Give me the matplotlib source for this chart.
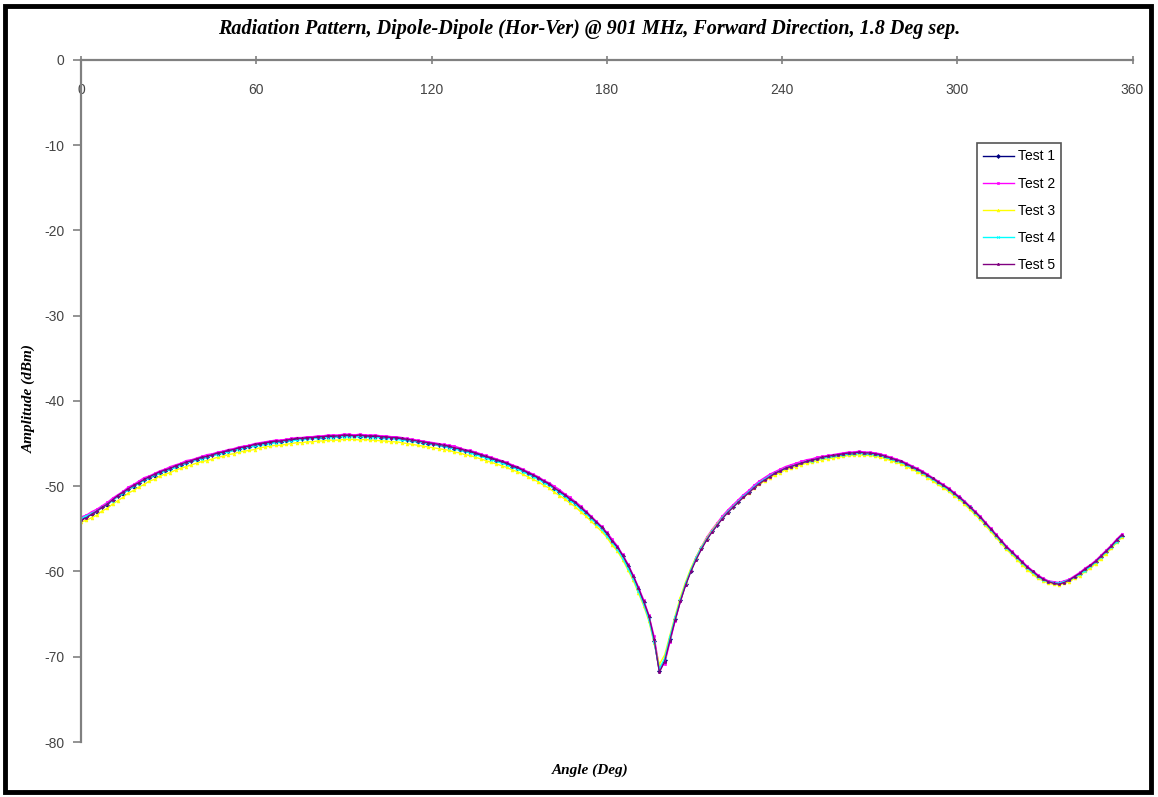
import numpy as np
import matplotlib
matplotlib.use('Agg')
from matplotlib import pyplot as plt
from matplotlib.patches import Rectangle

plt.rcParams['axes.unicode_minus'] = False
plt.rcParams['font.family'] = ['Liberation Sans', 'DejaVu Sans']

# amplitude readings (dBm), one every 1.8 deg starting at 0 deg
test1 = [-53.9, -53.6, -53.3, -53.0, -52.4, -52.2, -51.6, -51.2, -50.9, -50.3,
         -50.1, -49.6, -49.3, -49.0, -48.8, -48.4, -48.2, -48.0, -47.7, -47.5,
         -47.3, -47.1, -46.9, -46.7, -46.6, -46.4, -46.2, -46.1, -45.9, -45.8,
         -45.6, -45.5, -45.4, -45.3, -45.1, -45.0, -44.9, -44.8, -44.8, -44.7,
         -44.6, -44.5, -44.5, -44.4, -44.4, -44.3, -44.3, -44.2, -44.2, -44.2,
         -44.1, -44.1, -44.1, -44.2, -44.1, -44.2, -44.2, -44.3, -44.3, -44.4,
         -44.4, -44.5, -44.6, -44.7, -44.8, -44.9, -45.0, -45.1, -45.2, -45.3,
         -45.4, -45.6, -45.7, -45.9, -46.0, -46.2, -46.4, -46.6, -46.8, -47.0,
         -47.2, -47.4, -47.7, -47.9, -48.2, -48.5, -48.8, -49.1, -49.5, -49.8,
         -50.3, -50.7, -51.1, -51.6, -52.0, -52.6, -53.1, -53.7, -54.3, -54.9,
         -55.6, -56.5, -57.2, -58.2, -59.4, -60.6, -62.1, -63.6, -65.4, -68.1,
         -71.7, -70.4, -67.9, -65.6, -63.4, -61.5, -59.9, -58.5, -57.3, -56.2,
         -55.3, -54.5, -53.7, -53.0, -52.4, -51.8, -51.2, -50.7, -50.1, -49.6,
         -49.2, -48.8, -48.5, -48.2, -47.9, -47.7, -47.5, -47.3, -47.1, -47.0,
         -46.8, -46.7, -46.6, -46.5, -46.4, -46.3, -46.2, -46.2, -46.1, -46.2,
         -46.2, -46.3, -46.4, -46.6, -46.8, -47.0, -47.2, -47.5, -47.8, -48.1,
         -48.4, -48.8, -49.2, -49.6, -50.0, -50.4, -50.9, -51.3, -51.9, -52.5,
         -53.1, -53.7, -54.4, -55.1, -55.8, -56.5, -57.2, -57.8, -58.4, -59.0,
         -59.6, -60.1, -60.6, -60.9, -61.2, -61.3, -61.4, -61.2, -61.0, -60.6,
         -60.3, -59.8, -59.4, -58.9, -58.3, -57.7, -57.1, -56.4, -55.8]

test2 = [-53.6, -53.4, -53.0, -52.7, -52.3, -51.9, -51.4, -51.0, -50.6, -50.1,
         -49.8, -49.4, -49.0, -48.8, -48.5, -48.2, -48.0, -47.7, -47.5, -47.3,
         -47.0, -46.9, -46.7, -46.5, -46.3, -46.2, -46.0, -45.9, -45.7, -45.6,
         -45.4, -45.3, -45.2, -45.0, -44.9, -44.8, -44.7, -44.6, -44.6, -44.5,
         -44.4, -44.3, -44.3, -44.2, -44.2, -44.1, -44.1, -44.0, -44.0, -44.0,
         -43.9, -43.9, -44.0, -43.9, -44.0, -44.0, -44.0, -44.1, -44.1, -44.2,
         -44.2, -44.3, -44.4, -44.5, -44.6, -44.7, -44.8, -44.9, -45.0, -45.1,
         -45.2, -45.3, -45.5, -45.7, -45.8, -46.0, -46.2, -46.4, -46.6, -46.8,
         -47.0, -47.2, -47.5, -47.7, -48.0, -48.3, -48.6, -48.9, -49.3, -49.6,
         -50.0, -50.4, -50.9, -51.3, -51.8, -52.3, -52.9, -53.5, -54.1, -54.7,
         -55.4, -56.2, -57.0, -58.0, -59.1, -60.4, -61.8, -63.3, -65.1, -67.6,
         -71.3, -70.8, -68.3, -65.8, -63.5, -61.5, -59.8, -58.3, -57.1, -56.0,
         -55.1, -54.3, -53.5, -52.8, -52.2, -51.6, -51.0, -50.5, -49.9, -49.4,
         -49.0, -48.6, -48.3, -48.0, -47.7, -47.5, -47.3, -47.1, -46.9, -46.8,
         -46.6, -46.5, -46.4, -46.3, -46.2, -46.1, -46.0, -46.0, -45.9, -46.0,
         -46.0, -46.1, -46.2, -46.4, -46.6, -46.8, -47.0, -47.3, -47.6, -47.9,
         -48.2, -48.6, -49.0, -49.4, -49.8, -50.2, -50.7, -51.2, -51.7, -52.3,
         -52.9, -53.5, -54.2, -54.9, -55.6, -56.3, -57.0, -57.6, -58.2, -58.8,
         -59.4, -59.9, -60.4, -60.8, -61.1, -61.2, -61.3, -61.1, -60.9, -60.5,
         -60.1, -59.6, -59.2, -58.7, -58.1, -57.5, -56.9, -56.2, -55.6]

test3 = [-54.2, -54.0, -53.7, -53.4, -52.9, -52.6, -52.1, -51.7, -51.3, -50.8,
         -50.5, -50.1, -49.8, -49.4, -49.2, -48.8, -48.6, -48.4, -48.1, -47.9,
         -47.7, -47.5, -47.3, -47.1, -47.0, -46.8, -46.6, -46.5, -46.3, -46.2,
         -46.0, -45.9, -45.8, -45.7, -45.5, -45.4, -45.3, -45.2, -45.2, -45.1,
         -45.0, -44.9, -44.9, -44.8, -44.8, -44.7, -44.7, -44.6, -44.6, -44.6,
         -44.5, -44.5, -44.5, -44.6, -44.5, -44.6, -44.6, -44.7, -44.7, -44.8,
         -44.8, -44.9, -45.0, -45.1, -45.2, -45.3, -45.4, -45.5, -45.6, -45.7,
         -45.8, -46.0, -46.1, -46.3, -46.4, -46.6, -46.8, -47.0, -47.2, -47.4,
         -47.6, -47.8, -48.1, -48.3, -48.6, -48.9, -49.2, -49.5, -49.9, -50.2,
         -50.7, -51.1, -51.5, -52.0, -52.4, -53.0, -53.5, -54.1, -54.7, -55.3,
         -56.0, -56.9, -57.6, -58.6, -59.8, -61.0, -62.5, -64.0, -65.8, -68.4,
         -70.9, -69.8, -67.5, -65.2, -63.0, -61.2, -59.6, -58.3, -57.1, -56.1,
         -55.2, -54.4, -53.7, -53.0, -52.4, -51.8, -51.3, -50.8, -50.2, -49.8,
         -49.4, -49.0, -48.7, -48.4, -48.1, -47.9, -47.7, -47.5, -47.3, -47.2,
         -47.0, -46.9, -46.8, -46.7, -46.6, -46.5, -46.4, -46.4, -46.3, -46.4,
         -46.4, -46.5, -46.6, -46.8, -47.0, -47.2, -47.4, -47.7, -48.0, -48.3,
         -48.6, -49.0, -49.4, -49.8, -50.2, -50.6, -51.1, -51.5, -52.1, -52.7,
         -53.3, -53.9, -54.6, -55.3, -56.0, -56.7, -57.4, -58.0, -58.6, -59.2,
         -59.8, -60.3, -60.8, -61.1, -61.4, -61.5, -61.6, -61.4, -61.2, -60.8,
         -60.5, -60.0, -59.6, -59.1, -58.5, -57.9, -57.3, -56.6, -56.0]

test4 = [-53.8, -53.5, -53.2, -52.9, -52.5, -52.1, -51.7, -51.2, -50.8, -50.4,
         -50.0, -49.7, -49.3, -49.0, -48.7, -48.5, -48.2, -48.0, -47.8, -47.5,
         -47.3, -47.1, -46.9, -46.8, -46.6, -46.4, -46.3, -46.1, -46.0, -45.8,
         -45.7, -45.5, -45.4, -45.3, -45.2, -45.1, -45.0, -44.9, -44.8, -44.7,
         -44.7, -44.6, -44.5, -44.5, -44.4, -44.4, -44.3, -44.3, -44.3, -44.2,
         -44.2, -44.2, -44.2, -44.2, -44.2, -44.3, -44.3, -44.3, -44.4, -44.4,
         -44.5, -44.6, -44.6, -44.7, -44.8, -44.9, -45.0, -45.1, -45.2, -45.3,
         -45.5, -45.6, -45.8, -45.9, -46.1, -46.3, -46.5, -46.7, -46.9, -47.1,
         -47.3, -47.5, -47.8, -48.0, -48.3, -48.6, -48.9, -49.2, -49.6, -49.9,
         -50.3, -50.8, -51.2, -51.7, -52.1, -52.7, -53.2, -53.8, -54.4, -55.0,
         -55.8, -56.6, -57.4, -58.4, -59.6, -60.8, -62.3, -63.8, -65.6, -68.3,
         -71.4, -70.2, -67.7, -65.4, -63.3, -61.4, -59.8, -58.4, -57.2, -56.2,
         -55.3, -54.5, -53.7, -53.0, -52.4, -51.8, -51.2, -50.7, -50.1, -49.6,
         -49.2, -48.8, -48.5, -48.2, -47.9, -47.7, -47.5, -47.3, -47.1, -47.0,
         -46.8, -46.7, -46.6, -46.5, -46.4, -46.3, -46.2, -46.2, -46.1, -46.2,
         -46.2, -46.3, -46.4, -46.6, -46.8, -47.0, -47.2, -47.5, -47.8, -48.1,
         -48.4, -48.8, -49.2, -49.6, -50.0, -50.4, -50.9, -51.4, -51.9, -52.5,
         -53.1, -53.7, -54.4, -55.1, -55.8, -56.5, -57.2, -57.8, -58.4, -59.0,
         -59.6, -60.1, -60.6, -61.0, -61.2, -61.3, -61.4, -61.2, -61.0, -60.7,
         -60.3, -59.9, -59.4, -58.9, -58.3, -57.7, -57.1, -56.5, -55.8]

test5 = [-54.0, -53.7, -53.3, -52.9, -52.5, -52.1, -51.6, -51.1, -50.7, -50.3,
         -49.9, -49.6, -49.2, -48.9, -48.6, -48.3, -48.1, -47.9, -47.6, -47.4,
         -47.2, -47.0, -46.8, -46.6, -46.5, -46.3, -46.1, -46.0, -45.8, -45.7,
         -45.5, -45.4, -45.3, -45.1, -45.0, -44.9, -44.8, -44.7, -44.7, -44.6,
         -44.5, -44.4, -44.4, -44.3, -44.3, -44.2, -44.2, -44.1, -44.1, -44.1,
         -44.0, -44.0, -44.1, -44.0, -44.1, -44.1, -44.1, -44.2, -44.2, -44.3,
         -44.3, -44.4, -44.5, -44.6, -44.7, -44.8, -44.9, -45.0, -45.1, -45.2,
         -45.3, -45.5, -45.6, -45.8, -45.9, -46.1, -46.3, -46.5, -46.7, -46.9,
         -47.1, -47.3, -47.6, -47.8, -48.1, -48.4, -48.7, -49.0, -49.4, -49.7,
         -50.2, -50.6, -51.0, -51.5, -51.9, -52.5, -53.0, -53.6, -54.2, -54.8,
         -55.5, -56.4, -57.1, -58.1, -59.2, -60.5, -61.9, -63.5, -65.2, -67.9,
         -71.8, -70.6, -68.1, -65.7, -63.5, -61.6, -60.0, -58.6, -57.4, -56.3,
         -55.4, -54.6, -53.8, -53.1, -52.5, -51.9, -51.3, -50.8, -50.2, -49.7,
         -49.3, -48.9, -48.5, -48.2, -47.9, -47.7, -47.5, -47.3, -47.1, -46.9,
         -46.8, -46.6, -46.5, -46.4, -46.3, -46.2, -46.1, -46.1, -46.0, -46.1,
         -46.1, -46.2, -46.3, -46.5, -46.7, -46.9, -47.1, -47.4, -47.7, -48.0,
         -48.3, -48.7, -49.1, -49.5, -49.9, -50.3, -50.8, -51.3, -51.8, -52.4,
         -53.0, -53.6, -54.3, -55.0, -55.7, -56.4, -57.1, -57.7, -58.3, -58.9,
         -59.5, -60.0, -60.5, -60.9, -61.2, -61.4, -61.5, -61.3, -61.0, -60.6,
         -60.2, -59.7, -59.3, -58.8, -58.2, -57.6, -57.0, -56.3, -55.7]

labels = ['Test 1', 'Test 2', 'Test 3', 'Test 4', 'Test 5']
colors = ['#000080', '#FF00FF', '#FFFF00', '#00FFFF', '#800080']
markers = ['D', 's', '^', 'x', '*']
step = 1.8
xticks = [0, 60, 120, 180, 240, 300, 360]
yticks = [0, -10, -20, -30, -40, -50, -60, -70, -80]

angles = np.arange(len(test1)) * step
series = [test1, test2, test3, test4, test5]

fig = plt.figure(figsize=(11.58, 7.97), dpi=100)
ax = fig.add_axes([0.070, 0.069, 0.908, 0.856])

for vals, lab, col, mk in zip(series, labels, colors, markers):
    ax.plot(angles, vals, color=col, lw=1.0, marker=mk, ms=2.0, mew=0.5,
            label=lab)

ax.set_xlim(0, 360)
ax.set_ylim(-80, 0)
ax.set_xticks(xticks)
ax.set_yticks(yticks)

# x axis sits on the 0 dBm line at the top, labels hang below it
ax.spines['bottom'].set_position(('data', 0))
ax.spines['top'].set_visible(False)
ax.spines['right'].set_visible(False)
for s in ['bottom', 'left']:
    ax.spines[s].set_color('#808080')
    ax.spines[s].set_linewidth(1.6)
ax.tick_params(axis='x', direction='inout', length=6, pad=14, width=1.2,
               color='#808080', labelsize=10, labelcolor='#444444')
ax.tick_params(axis='y', direction='out', length=6, pad=6, width=1.2,
               color='#808080', labelsize=10, labelcolor='#444444')

serif = {'family': 'Liberation Serif', 'weight': 'bold', 'style': 'italic'}
fig.text(0.509, 0.964, 'Radiation Pattern, Dipole-Dipole (Hor-Ver) @ 901 MHz, '
         'Forward Direction, 1.8 Deg sep.', ha='center', va='center',
         fontsize=14.5, **serif)
fig.text(0.025, 0.5, 'Amplitude (dBm)', rotation=90, ha='center', va='center',
         fontsize=11, **serif)
fig.text(0.51, 0.034, 'Angle (Deg)', ha='center', va='center',
         fontsize=11, **serif)

leg = ax.legend(loc='upper right', bbox_to_anchor=(0.939, 0.888),
                fancybox=False, framealpha=1, edgecolor='#555555',
                fontsize=10, handlelength=2.2, borderpad=0.45,
                labelspacing=0.95, handletextpad=0.3)
leg.get_frame().set_linewidth(1.2)

fig.patches.append(Rectangle((0.004, 0.006), 0.99, 0.987,
                             transform=fig.transFigure, fill=False,
                             lw=3.5, edgecolor='black'))

fig.savefig('out.png', dpi=100)
